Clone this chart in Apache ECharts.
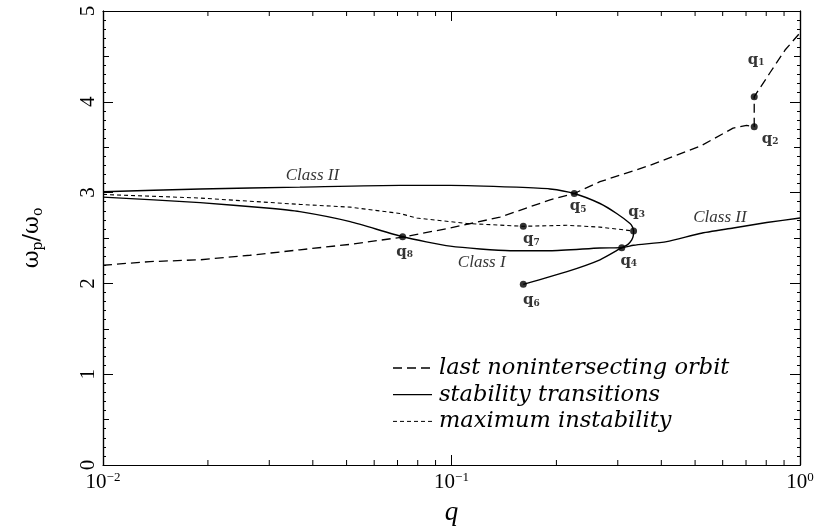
<!DOCTYPE html>
<html><head><meta charset="utf-8">
<script src="https://cdn.jsdelivr.net/npm/echarts@6.0.0/dist/echarts.min.js"></script>
<style>html,body{margin:0;padding:0;background:#fff}#c{width:818px;height:532px}</style>
</head><body><div id="c"></div><script>
// ---- data ----
const orbitQ = [0.01, 0.01364, 0.0190, 0.0264, 0.0367, 0.0512, 0.0724, 0.0991, 0.1378, 0.1918, 0.225, 0.2667, 0.3713, 0.5165, 0.6427, 0.703, 0.739, 0.739, 0.820, 0.906, 1.0];
const orbitW = [2.20, 2.24, 2.26, 2.31, 2.37, 2.43, 2.51, 2.61, 2.73, 2.92, 2.99, 3.12, 3.30, 3.51, 3.71, 3.74, 3.726, 4.056, 4.32, 4.57, 4.76];

const stabUpperQ = [0.01, 0.0190, 0.0367, 0.0711, 0.0991, 0.1537, 0.1918, 0.225, 0.2667, 0.2978, 0.3253, 0.3307, 0.333, 0.3322, 0.329, 0.3209, 0.308, 0.2667, 0.2145, 0.1607];
const stabUpperW = [3.01, 3.04, 3.06, 3.08, 3.08, 3.06, 3.04, 2.99, 2.88, 2.77, 2.66, 2.62, 2.577, 2.52, 2.48, 2.43, 2.393, 2.26, 2.13, 1.99];

const stabLowerQ = [0.01, 0.0190, 0.0295, 0.0367, 0.0512, 0.0724, 0.0991, 0.1473, 0.1918, 0.2667, 0.308, 0.333, 0.4145, 0.5165, 0.6436, 0.8023, 1.0];
const stabLowerW = [2.95, 2.89, 2.83, 2.79, 2.68, 2.514, 2.41, 2.36, 2.36, 2.39, 2.393, 2.42, 2.46, 2.55, 2.61, 2.67, 2.72];

const maxInstQ = [0.01, 0.0190, 0.0367, 0.0512, 0.0711, 0.0795, 0.1106, 0.1607, 0.2145, 0.2667, 0.333];
const maxInstW = [2.98, 2.94, 2.87, 2.84, 2.77, 2.72, 2.66, 2.629, 2.64, 2.62, 2.577];

const pointNames = ['1', '2', '3', '4', '5', '6', '7', '8'];
const pointQ = [0.739, 0.739, 0.333, 0.308, 0.225, 0.1607, 0.1607, 0.0724];
const pointW = [4.056, 3.726, 2.577, 2.393, 2.99, 1.99, 2.629, 2.514];

const classNames = ['Class II', 'Class I', 'Class II'];
const classQ = [0.0399, 0.1221, 0.589];
const classW = [3.19, 2.23, 2.73];

const legendNames = ['last nonintersecting orbit', 'stability transitions', 'maximum instability'];
const xMinorTicks = [0.02, 0.03, 0.04, 0.05, 0.06, 0.07, 0.08, 0.09, 0.2, 0.3, 0.4, 0.5, 0.6, 0.7, 0.8, 0.9];

// ---- chart ----
const pairs = (a, b) => a.map((v, i) => [v, b[i]]);
const labelOffsets = {'1': [2, -37], '2': [16, 12], '3': [3, -19], '4': [7, 13], '5': [4, 13], '6': [8, 16], '7': [8, 13], '8': [2, 15]};
const serif = 'Liberation Serif';
const chart = echarts.init(document.getElementById('c'), null, {renderer: 'canvas'});

function yAx(pos, interval, tickLen, withLabels, minor) {
  const a = {
    type: 'value', min: 0, max: 5, interval: interval, position: pos,
    axisLine: {show: true, onZero: false, lineStyle: {color: '#000', width: 1.2}},
    axisTick: {inside: true, length: tickLen, lineStyle: {color: '#000', width: 1}},
    minorTick: {show: !!minor, splitNumber: 10, length: 3, lineStyle: {color: '#000', width: 1}},
    splitLine: {show: false},
    axisLabel: {show: withLabels, rotate: 90, margin: 4, color: '#000', fontFamily: serif, fontSize: 21,
      formatter: v => (Math.abs(v - Math.round(v)) < 1e-6 ? String(Math.round(v)) : '')}
  };
  if (withLabels) {
    a.name = '{a|ω}{s|p}{a|/ω}{s|o}';
    a.nameLocation = 'middle';
    a.nameRotate = 90;
    a.nameGap = 58;
    a.nameTextStyle = {rich: {
      a: {fontFamily: 'DejaVu Serif', fontSize: 22, color: '#000'},
      s: {fontFamily: 'DejaVu Serif', fontSize: 14, color: '#000', padding: [12, 0, 0, 0]}
    }};
  }
  return a;
}
function xAx(pos, withLabels) {
  const a = {
    type: 'log', logBase: 10, min: 0.01, max: 1, position: pos,
    axisLine: {show: true, onZero: false, lineStyle: {color: '#000', width: 1.2}},
    axisTick: {inside: true, length: 10, lineStyle: {color: '#000', width: 1}},
    splitLine: {show: false},
    axisLabel: {show: withLabels, margin: 6, color: '#000',
      formatter: v => '{b|10}{p|' + String(Math.round(Math.log10(v))).replace('-', '−') + '}',
      rich: {b: {fontFamily: serif, fontSize: 21, color: '#000'},
             p: {fontFamily: serif, fontSize: 13, color: '#000', padding: [0, 0, 10, 0]}}}
  };
  if (withLabels) {
    a.name = 'q';
    a.nameLocation = 'middle';
    a.nameGap = 34;
    a.nameTextStyle = {fontFamily: serif, fontStyle: 'italic', fontSize: 27, color: '#000'};
  }
  return a;
}

const legendRows = [
  {dash: [9, 5]}, {dash: null}, {dash: [4, 3]}
];
const graphics = [];
legendRows.forEach((r, i) => {
  const y = 368 + i * 26.7;
  graphics.push({type: 'line', shape: {x1: 393, y1: y, x2: 432, y2: y},
    style: {stroke: '#000', lineWidth: r.dash && r.dash[0] === 4 ? 1 : 1.3, lineDash: r.dash || null}});
  graphics.push({type: 'text', x: 439, y: y, style: {text: legendNames[i], fill: '#000',
    font: 'italic 22.5px "DejaVu Serif"', textAlign: 'left', textVerticalAlign: 'middle'}});
});

chart.setOption({
  animation: false,
  backgroundColor: '#fff',
  grid: {left: 103, right: 18, top: 11, bottom: 67, containLabel: false},
  xAxis: [xAx('bottom', true), xAx('top', false)],
  yAxis: [yAx('left', 1, 10, true, true), yAx('right', 1, 10, false, true),
          yAx('left', 0.5, 6, false, false), yAx('right', 0.5, 6, false, false)],
  graphic: graphics,
  series: [
    {type: 'line', name: legendNames[0], data: pairs(orbitQ, orbitW), showSymbol: false, symbol: 'none',
      lineStyle: {color: '#000', width: 1.3, type: [9, 5]}},
    {type: 'line', name: legendNames[1], data: pairs(stabUpperQ, stabUpperW), showSymbol: false, symbol: 'none',
      smooth: 0.2, lineStyle: {color: '#000', width: 1.4}},
    {type: 'line', name: legendNames[1], data: pairs(stabLowerQ, stabLowerW), showSymbol: false, symbol: 'none',
      smooth: 0.2, lineStyle: {color: '#000', width: 1.4}},
    {type: 'line', name: legendNames[2], data: pairs(maxInstQ, maxInstW), showSymbol: false, symbol: 'none',
      lineStyle: {color: '#000', width: 1.1, type: [4, 3]}},
    {type: 'scatter', data: pointNames.map((n, i) => ({name: n, value: [pointQ[i], pointW[i]],
        label: {offset: labelOffsets[n]}})),
      symbolSize: 7, itemStyle: {color: '#000'}, z: 5,
      label: {show: true, position: 'inside', textBorderWidth: 0, formatter: p => '{q|q}{s|' + p.name + '}',
        rich: {q: {fontFamily: 'DejaVu Serif', fontWeight: 'bold', fontSize: 15, color: '#000', textBorderWidth: 0},
               s: {fontFamily: 'DejaVu Serif', fontWeight: 'bold', fontSize: 9, color: '#000', textBorderWidth: 0, padding: [6, 0, 0, 0]}}}},
    {type: 'scatter', data: classNames.map((n, i) => ({name: n, value: [classQ[i], classW[i]]})),
      symbolSize: 0, silent: true,
      label: {show: true, position: 'inside', formatter: p => p.name, color: '#000', textBorderWidth: 0,
        fontFamily: serif, fontStyle: 'italic', fontSize: 17}},
    {type: 'custom', data: xMinorTicks.map(t => [t, 0]), silent: true, clip: false,
      renderItem: (params, api) => {
        const t = api.value(0);
        const pb = api.coord([t, 0]);
        const pt = api.coord([t, 5]);
        return {type: 'group', children: [
          {type: 'line', shape: {x1: pb[0], y1: pb[1], x2: pb[0], y2: pb[1] - 5}, style: {stroke: '#000', lineWidth: 1}},
          {type: 'line', shape: {x1: pt[0], y1: pt[1], x2: pt[0], y2: pt[1] + 5}, style: {stroke: '#000', lineWidth: 1}}
        ]};
      }}
  ]
});
</script></body></html>
